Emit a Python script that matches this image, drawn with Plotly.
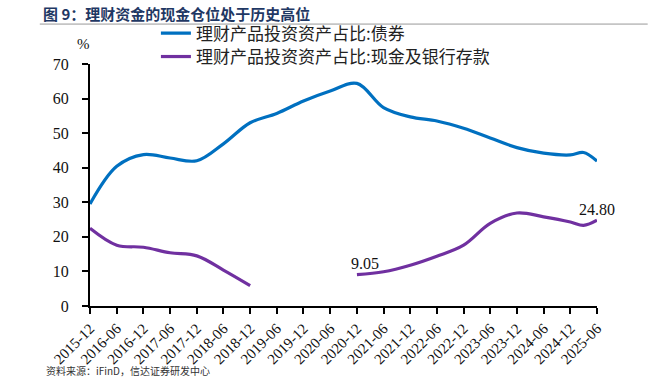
import plotly.graph_objects as go

dates = ["2015-12", "2016-06", "2016-12", "2017-06", "2017-12", "2018-06", "2018-12",
         "2019-06", "2019-12", "2020-06", "2020-12", "2021-06", "2021-12", "2022-06",
         "2022-12", "2023-06", "2023-12", "2024-06", "2024-12", "2025-03", "2025-06"]
bond_share = [29.5, 40.4, 43.8, 42.8, 42.0, 46.9, 53.0,
              55.7, 59.3, 62.2, 64.4, 57.4, 54.7, 53.5,
              51.4, 48.6, 45.8, 44.2, 43.7, 44.4, 41.9]
cash_share = [22.5, 17.6, 17.0, 15.4, 14.5, 10.4, 5.9,
              None, None, None, 9.05, 9.9, 11.8, 14.4,
              17.6, 23.9, 26.9, 25.8, 24.3, 23.3, 24.80]
tick_labels = ["2015-12", "2016-06", "2016-12", "2017-06", "2017-12", "2018-06", "2018-12",
               "2019-06", "2019-12", "2020-06", "2020-12", "2021-06", "2021-12", "2022-06",
               "2022-12", "2023-06", "2023-12", "2024-06", "2024-12", "2025-06"]
series_names = ["理财产品投资资产占比:债券", "理财产品投资资产占比:现金及银行存款"]

serif = "Liberation Serif, Times New Roman, serif"
cjk = "Noto Sans CJK SC"

fig = go.Figure()
fig.add_trace(go.Scatter(x=dates, y=bond_share, mode="lines", name=series_names[0],
                         legend="legend",
                         line=dict(color="#0070C0", width=3.2, shape="spline", smoothing=1)))
fig.add_trace(go.Scatter(x=dates, y=cash_share, mode="lines", name=series_names[1],
                         connectgaps=False, legend="legend2",
                         line=dict(color="#7030A0", width=3.2, shape="spline", smoothing=1)))

leg_common = dict(xanchor="left", yanchor="middle", bgcolor="rgba(0,0,0,0)",
                  font=dict(family=cjk, size=17, color="#222"), itemwidth=30)

fig.update_layout(
    width=648, height=380,
    margin=dict(l=90, r=51, t=64, b=74),
    paper_bgcolor="white", plot_bgcolor="white",
    showlegend=True,
    legend=dict(x=0.13, y=1.126, **leg_common),
    legend2=dict(x=0.13, y=1.029, **leg_common),
    xaxis=dict(type="date", range=["2015-12-01", "2025-06-01"], automargin=False,
               tickvals=[t + "-01" for t in tick_labels], ticktext=tick_labels,
               tickangle=-45, showline=True, linecolor="black", linewidth=2,
               ticks="outside", ticklen=6, tickwidth=2, tickcolor="black",
               showgrid=False, zeroline=False,
               tickfont=dict(family=serif, size=15, color="#111")),
    yaxis=dict(range=[0, 70], dtick=10, showline=True, linecolor="black", linewidth=2,
               ticks="outside", ticklen=6, tickwidth=2, tickcolor="black", automargin=False,
               showgrid=False, zeroline=False, ticklabelstandoff=10,
               tickfont=dict(family=serif, size=16, color="#111")),
)

fig.add_annotation(x="2020-12-01", y=9.05, text="9.05", showarrow=False,
                   xshift=8, yshift=11, font=dict(family=serif, size=16, color="#111"))
fig.add_annotation(x="2025-06-01", y=24.80, text="24.80", showarrow=False,
                   xshift=0, yshift=11, font=dict(family=serif, size=16, color="#111"))
fig.add_annotation(xref="paper", yref="paper", x=-0.03, y=1.123, text="%", showarrow=False,
                   font=dict(family=serif, size=15, color="#111"))
fig.add_annotation(xref="paper", yref="paper", x=-0.097, y=1.21, xanchor="left", yanchor="middle",
                   text="<b>图 9：理财资金的现金仓位处于历史高位</b>", showarrow=False,
                   font=dict(family=cjk, size=15, color="#1f3864"))
fig.add_shape(type="line", xref="paper", yref="paper", x0=-0.099, x1=1.1, y0=1.165, y1=1.165,
              line=dict(color="#999999", width=1))
fig.add_annotation(xref="paper", yref="paper", x=-0.09, y=-0.305, xanchor="left", yanchor="bottom",
                   text="资料来源：iFinD，信达证券研发中心", showarrow=False,
                   font=dict(family=cjk, size=10, color="#333"))

fig.write_html("out.html", config={"displayModeBar": False},
               post_script="document.body.style.margin='0px';")
